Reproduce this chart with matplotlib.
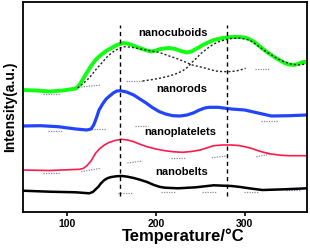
import numpy as np
import matplotlib
matplotlib.use('Agg')
import matplotlib.pyplot as plt

plt.rcParams['font.family'] = ['Liberation Sans', 'DejaVu Sans']

# profiles (intensity in arbitrary units, offset per sample)
t_cub = [50, 65, 80, 95, 110, 114, 118, 122, 127, 132, 138, 144, 150, 156, 163, 170, 177, 185,
         190, 195, 200, 205, 215, 222, 228, 235, 240, 245, 250, 255, 260, 265, 275, 285, 295,
         300, 305, 310, 315, 320, 325, 330, 335, 340, 345, 350, 355, 360, 365, 370]
i_cub = [122, 121.5, 120.5, 121.5, 123.5, 127, 133, 139, 146, 152, 157, 161, 164, 167, 169, 168,
         165.5, 163, 161.5, 160.5, 161.5, 163, 164, 163, 161, 159.5, 160.5, 163, 165.5, 168, 170,
         172, 174, 175, 175, 174.5, 173, 170.5, 167, 163.5, 160, 157, 154, 151.5, 149, 147.5,
         147, 148, 150, 150]

t_rod = [50, 70, 90, 110, 122, 127, 130, 133, 136, 140, 144, 147, 152, 156, 160, 167, 175, 182,
         189, 196, 204, 211, 219, 227, 235, 242, 249, 255, 260, 270, 285, 300, 315, 330, 350, 370]
i_rod = [86, 86.3, 85.3, 83, 82, 83, 87, 94, 102, 108, 113, 115.3, 119, 121, 121.3, 120, 117, 113,
         109, 104.5, 100.3, 98, 96.3, 96, 97, 99, 102, 104, 104.7, 104.7, 103, 102, 99, 96, 96.3, 97]

t_pla = [50, 80, 114, 118, 122, 127, 132, 137, 142, 147, 154, 161, 168, 175, 182, 190, 200, 210,
         220, 230, 240, 250, 258, 265, 275, 285, 293, 300, 308, 315, 322, 330, 340, 350, 370]
i_pla = [42, 41.5, 42.7, 43.5, 46, 51, 58.7, 63.5, 67, 69.5, 71.5, 72.7, 72, 70.3, 67.8, 65.3, 63,
         61.3, 60.2, 59.7, 60.5, 62, 64.3, 66.3, 67, 67, 66.5, 65.3, 63.5, 61.3, 59.5, 58, 56.8,
         56.3, 56.3]

t_bel = [50, 80, 110, 125, 129, 132, 135, 138, 142, 146, 150, 156, 162, 168, 175, 182, 190, 197,
         204, 210, 225, 245, 265, 285, 295, 305, 320, 345, 370]
i_bel = [21.3, 20.3, 19.7, 18.7, 20, 22.5, 25, 28.5, 32, 34, 35, 35.8, 36, 35.3, 34, 32.3, 30,
         27.3, 25.2, 24.3, 23.7, 24.7, 26.7, 26, 25, 23.7, 22, 22.7, 23.7]

# fitted peaks for nanocuboids
t_fit1 = [112, 118, 125, 132, 140, 145, 150, 155, 160, 165, 172, 180, 187, 195, 204, 215, 225,
          233, 241, 248, 255, 261, 267, 273, 280, 285, 290, 295, 301]
i_fit1 = [124, 128.5, 134, 142, 150, 155, 159, 162, 164, 165.3, 164.8, 163.5, 162.3, 161, 159.5,
          156, 153, 150, 147, 145.5, 144, 142.5, 141, 140.5, 140.3, 140.5, 141, 142, 143.7]
t_fit2 = [185, 195, 204, 215, 222, 230, 236, 241, 246, 250, 255, 260, 265, 270, 277, 285, 295,
          305, 310, 315, 322, 330, 337, 345, 352, 360, 370]
i_fit2 = [131, 132.3, 133.7, 136, 138, 141, 145, 150, 154, 158, 161.5, 165, 167.8, 170, 172,
          173.5, 174, 172, 169.5, 166, 161.5, 157, 153.3, 150, 148, 147, 148]

# short gray baseline pieces: (t0, t1, i0, i1)
gray_bits = [(73, 92, 117.7, 117.7), (116, 138, 125, 127), (166, 185, 131, 131), (312, 327, 143, 143),
             (78, 95, 81, 81), (125, 144, 82.7, 82.7), (176, 191, 86, 86), (318, 337, 91, 91),
             (73, 92, 39.3, 39.3), (116, 138, 40.3, 43.7), (168, 185, 49, 51), (217, 234, 54.3, 54.3),
             (263, 280, 54.3, 56), (313, 330, 55.3, 58),
             (157, 173, 18.7, 18.7), (206, 223, 20.3, 20.3), (252, 269, 20.3, 20.3),
             (299, 316, 19.7, 19.7), (346, 363, 22, 22)]

peaks = [160, 280]
labels = ['nanocuboids', 'nanorods', 'nanoplatelets', 'nanobelts']
label_pos = [(219, 179), (229, 123), (227, 80), (229, 40)]

fig = plt.figure(figsize=(3.1, 2.5), dpi=100)
ax = fig.add_axes([0.073, 0.152, 0.917, 0.840])

for t0, t1, i0, i1 in gray_bits:
    ax.plot([t0, t1], [i0, i1], color='#8a8aa0', lw=0.9, ls=(0, (1, 1)))

kw = dict(solid_joinstyle='round', solid_capstyle='round')
ax.plot(t_cub, i_cub, color='#11ff11', lw=2.8, **kw)
ax.plot(t_rod, i_rod, color='#2244ff', lw=2.3, **kw)
ax.plot(t_pla, i_pla, color='#ff1a4a', lw=1.2, **kw)
ax.plot(t_bel, i_bel, color='black', lw=1.8, **kw)

ax.plot(t_fit1, i_fit1, color='#222222', lw=1.0, ls=(0, (1.5, 1.5)))
ax.plot(t_fit2, i_fit2, color='#222222', lw=1.0, ls=(0, (1.5, 1.5)))

for p in peaks:
    ax.plot([p, p], [16, 187], color='black', lw=1.0, ls=(0, (3, 2.5)))

for lab, (x, y) in zip(labels, label_pos):
    ax.text(x, y, lab, ha='center', va='center', fontsize=8, fontweight='bold')

ax.set_xlim(50, 370)
ax.set_ylim(0, 210)
ax.set_xticks([100, 200, 300])
ax.set_yticks([])
ax.tick_params(axis='x', labelsize=7.5, length=3, width=1.2, direction='out', pad=2)
for lab in ax.get_xticklabels():
    lab.set_fontweight('bold')
for s in ax.spines.values():
    s.set_linewidth(1.3)
ax.set_xlabel('Temperature/\u00b0C', fontsize=12, fontweight='bold')
ax.xaxis.set_label_coords(0.564, -0.076)
ax.set_ylabel('Intensity(a.u.)', fontsize=10, fontweight='bold', labelpad=4)

fig.savefig('out.png', dpi=100)
